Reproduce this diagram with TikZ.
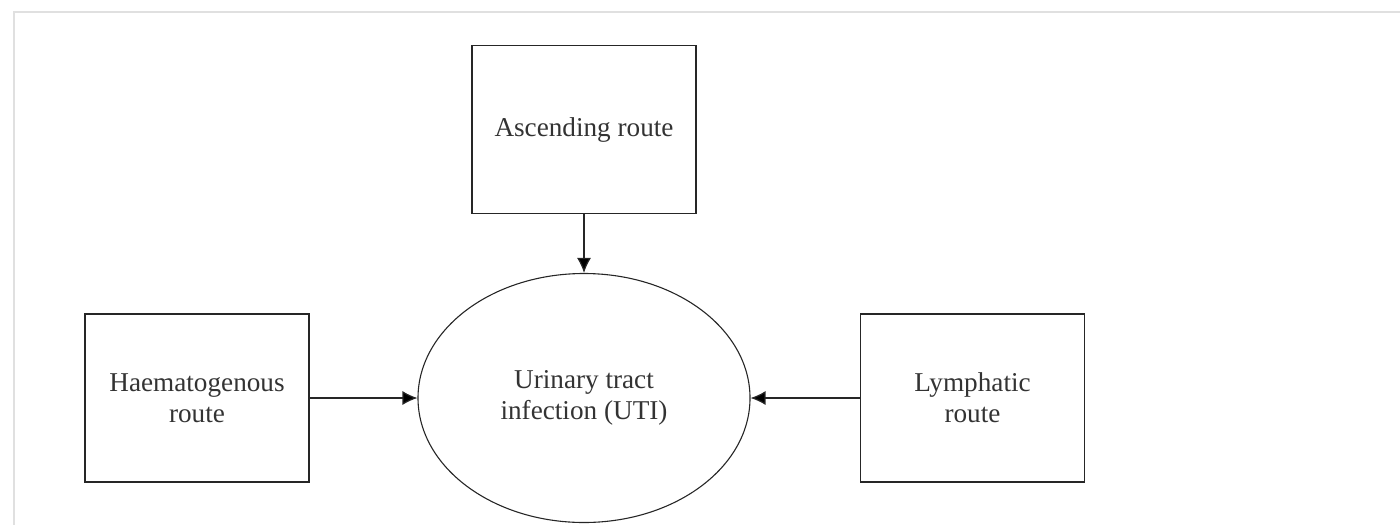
\documentclass[tikz,border=0pt]{standalone}
\usepackage{fontspec}
\setmainfont{Liberation Serif}
\usepackage{tikz}
\usetikzlibrary{arrows.meta,shapes.geometric}

\begin{document}
\begin{tikzpicture}[x=0.5pt,y=-0.5pt,>={Latex[length=7.5pt,width=7pt]},
    route/.style={draw=black!85,line width=0.7pt,rectangle,minimum width=112pt,minimum height=84pt,
        align=center,text=black!80,font=\fontsize{13.6}{15.5}\selectfont},
    infection/.style={draw=black!85,line width=0.55pt,ellipse,inner sep=0pt,minimum width=166pt,minimum height=124.5pt,
        align=center,text=black!80,font=\fontsize{13.6}{15.5}\selectfont}]
            \useasboundingbox (0,0) rectangle (1400,525);
            \draw[black!12,line width=1pt] (13.5,525) -- (13.5,11.5) -- (1400,11.5);

            \node[infection]  (uti)   at (584,398)   {Urinary tract\\infection (UTI)};
            \node[route]      (asc)   at (584,129.5) {Ascending route};
            \node[route]      (haem)  at (197,398)   {Haematogenous\\route};
            \node[route]      (lymph) at (972.5,398) {Lymphatic\\route};

            \path[->,draw=black!85,line width=0.6pt]
                (asc)   edge (uti)
                (haem)  edge (uti)
                (lymph) edge (uti);
        \end{tikzpicture}
\end{document}
